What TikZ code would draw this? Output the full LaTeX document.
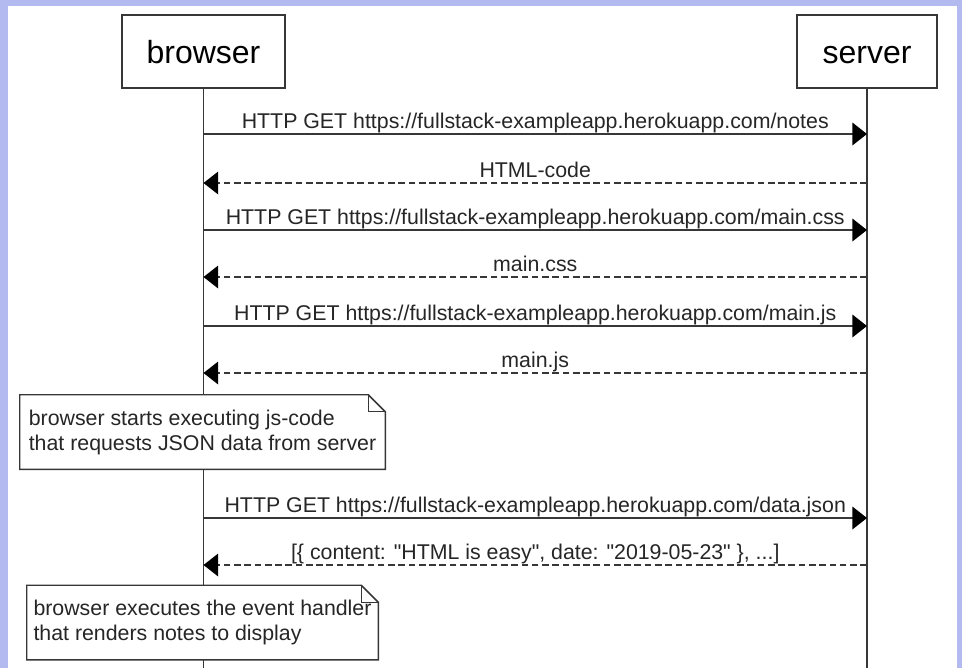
\documentclass[tikz,border=0pt]{standalone}
\usepackage{fontspec}
\setmainfont{Liberation Sans}
\usetikzlibrary{positioning, arrows.meta, calc}
\definecolor{frame}{RGB}{178,186,240}
\definecolor{ink}{RGB}{55,55,55}
\tikzset{
  actor/.style={draw=ink, line width=1.1pt, minimum height=54.75pt, text height=17.3pt, text depth=0pt, font=\fontsize{24}{28}\selectfont},
  lifeline/.style={draw=ink, line width=1.1pt},
  call/.style={draw=ink, line width=1.1pt, -{Triangle[length=11pt, width=17pt, color=black]}},
  reply/.style={call, dash pattern=on 5pt off 2.7pt},
  msg/.style={midway, anchor=base, yshift=4.5pt, inner sep=0pt, text=black!85, font=\fontsize{16}{18}\selectfont},
  note/.style={fill=white, minimum height=55.5pt, inner xsep=3pt, align=left, text=black!85, font=\fontsize{16}{18.75}\selectfont}
}
% folded note outline
\newcommand{\dogear}[1]{%
  \draw[ink, line width=1.1pt] (#1.north west) -- ($(#1.north east)+(-17,0)$) -- ($(#1.north east)+(0,17)$)
    -- (#1.south east) -- (#1.south west) -- cycle;
  \draw[ink, line width=1.1pt] ($(#1.north east)+(-17,0)$) -- ($(#1.north east)+(-17,17)$) -- ($(#1.north east)+(0,17)$);
}

\begin{document}
\begin{tikzpicture}[x=0.75pt, y=-0.75pt]
    % Frame
    \fill[frame] (0,0) rectangle (962,668);
    \fill[white] (8,6) rectangle (957,668);
    \useasboundingbox (0,0) rectangle (962,668);

    % Actors
    \node[actor, minimum width=122.25pt] (browser) at (203.5,51.5) {browser};
    \node[actor, minimum width=105pt] (server) at (867,51.5) {server};

    % Lifelines
    \coordinate (browserEnd) at (browser |- 0,668);
    \coordinate (serverEnd) at (server |- 0,668);
    \draw[lifeline] (browser.south) -- (browserEnd);
    \draw[lifeline] (server.south) -- (serverEnd);

    % Message points on the lifelines
    \foreach \i/\y in {1/134, 2/183, 3/230, 4/277, 5/326, 6/373, 7/518, 8/565} {
        \coordinate (b\i) at (browser |- 0,\y);
        \coordinate (s\i) at (server |- 0,\y);
    }

    % Messages
    \draw[call] (b1) -- (s1) node[msg] {HTTP GET https://fullstack-exampleapp.herokuapp.com/notes};
    \draw[reply] (s2) -- (b2) node[msg] {HTML-code};
    \draw[call] (b3) -- (s3) node[msg] {HTTP GET https://fullstack-exampleapp.herokuapp.com/main.css};
    \draw[reply] (s4) -- (b4) node[msg] {main.css};
    \draw[call] (b5) -- (s5) node[msg] {HTTP GET https://fullstack-exampleapp.herokuapp.com/main.js};
    \draw[reply] (s6) -- (b6) node[msg] {main.js};
    \draw[call] (b7) -- (s7) node[msg] {HTTP GET https://fullstack-exampleapp.herokuapp.com/data.json};
    \draw[reply] (s8) -- (b8) node[msg] {[\{ content: \textquotedbl HTML is easy\textquotedbl, date: \textquotedbl 2019-05-23\textquotedbl\ \}, ...]};

    % Notes
    \node[note, minimum width=273.75pt] (startNote) at (202.5,432) {browser starts executing js-code\\that requests JSON data from server};
    \dogear{startNote}
    \node[note, minimum width=263.25pt] (handlerNote) at (202.5,622.5) {browser executes the event handler\\that renders notes to display};
    \dogear{handlerNote}
\end{tikzpicture}
\end{document}
